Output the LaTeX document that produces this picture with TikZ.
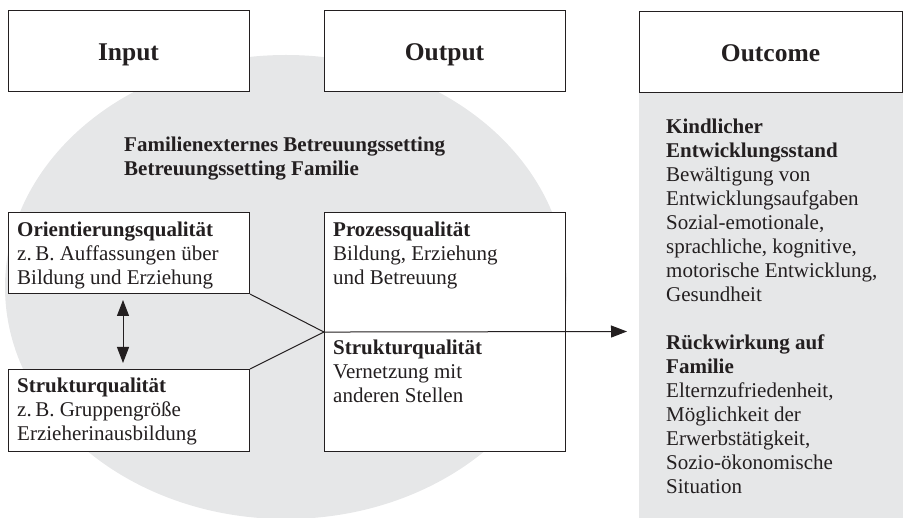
\documentclass[tikz,border=0pt]{standalone}
\usepackage{fontspec}
\setmainfont{Liberation Serif}
\usetikzlibrary{arrows.meta}
\definecolor{pgray}{RGB}{230,231,232}
\definecolor{ink}{RGB}{35,31,32}
\newcommand{\blockt}[1]{\begin{tabular}[t]{@{}l@{}}#1\end{tabular}}
\begin{document}
\begin{tikzpicture}[x=1pt,y=-1pt,
  box/.style={draw=ink,line width=1.1pt,fill=white,rectangle,inner sep=0pt,anchor=north west},
  conn/.style={draw=ink,line width=1pt},
  tip/.style={-{Triangle[length=16pt,width=12pt]}},
  body/.style={font=\fontsize{21}{24}\selectfont,inner sep=0pt,anchor=base west,text=ink},
  title/.style={font=\fontsize{25.5}{30}\selectfont\bfseries,inner sep=0pt,anchor=base,text=ink}]
\useasboundingbox (0,0) rectangle (903,518);
% background shapes
\fill[pgray] (286,287) ellipse [x radius=281, y radius=232];
\node[fill=pgray,rectangle,inner sep=0pt,anchor=north west,minimum width=264pt,minimum height=426pt] (panel) at (639,92) {};
% boxes
\node[box,minimum width=241pt,minimum height=81pt] (inbox) at (8,10) {};
\node[box,minimum width=241pt,minimum height=81pt] (outbox) at (324,10) {};
\node[box,minimum width=263pt,minimum height=81pt] (ocbox) at (639,11) {};
\node[box,minimum width=241pt,minimum height=81pt] (orient) at (8,212) {};
\node[box,minimum width=241pt,minimum height=82pt] (struk) at (8,369) {};
\node[box,minimum width=241pt,minimum height=239pt] (proz) at (324,212) {};
% connectors
\coordinate (tipend) at (627,331.5);
\coordinate (da1) at (123,300);
\coordinate (da2) at (123,363);
\draw[conn] (orient.south east) -- (proz.west);
\draw[conn] (struk.north east) -- (proz.west);
\draw[conn,tip] (proz.west) -- (tipend);
\draw[conn,{Triangle[length=16pt,width=12pt]}-{Triangle[length=16pt,width=12pt]}] (da1) -- (da2);
% titles
\node[title] (tin) at (128.5,61) {Input};
\node[title] (tout) at (444.5,61) {Output};
\node[title] (toc) at (770.5,62) {Outcome};
% texts
\node[body] (tfam) at (124,152) {\blockt{\textbf{Familienexternes Betreuungssetting}\\\textbf{Betreuungssetting Familie}}};
\node[body] (torient) at (17,237) {\blockt{\textbf{Orientierungsqualität}\\z.\,B. Auffassungen über\\Bildung und Erziehung}};
\node[body] (tstruk) at (17,393) {\blockt{\textbf{Strukturqualität}\\z.\,B. Gruppengröße\\Erzieherinausbildung}};
\node[body] (tproz) at (333,237) {\blockt{\textbf{Prozessqualität}\\Bildung, Erziehung\\und Betreuung}};
\node[body] (tstruk2) at (333,355) {\blockt{\textbf{Strukturqualität}\\Vernetzung mit\\anderen Stellen}};
\node[body] (toutc) at (666,134) {\blockt{\textbf{Kindlicher}\\\textbf{Entwicklungsstand}\\Bewältigung von\\Entwicklungsaufgaben\\Sozial-emotionale,\\sprachliche, kognitive,\\motorische Entwicklung,\\Gesundheit\\ \\\textbf{Rückwirkung auf}\\\textbf{Familie}\\Elternzufriedenheit,\\Möglichkeit der\\Erwerbstätigkeit,\\Sozio-ökonomische\\Situation}};
\end{tikzpicture}
\end{document}
